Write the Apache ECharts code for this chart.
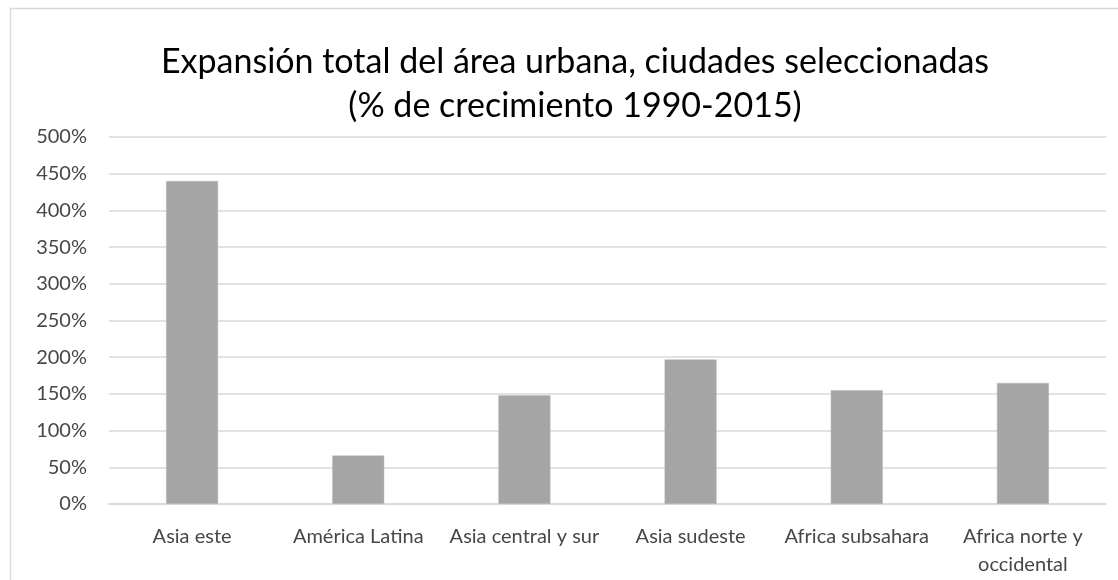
<!DOCTYPE html>
<html>
<head>
<meta charset="utf-8">
<title>Expansión total del área urbana</title>
<script src="https://cdn.jsdelivr.net/npm/echarts@6/dist/echarts.min.js"></script>
<style>
  html, body { margin: 0; padding: 0; background: #fff; }
  #main { width: 1118px; height: 580px; }
</style>
</head>
<body>
<div id="main"></div>
<script>
  // data
  var regiones = ['Asia este', 'América Latina', 'Asia central y sur', 'Asia sudeste', 'Africa subsahara', 'Africa norte y\noccidental'];
  var crecimiento = [440, 66, 148, 197, 155, 165];
  var yMin = 0, yMax = 500, yStep = 50;

  var myChart = echarts.init(document.getElementById('main'));
  var font = 'Lato, "Open Sans", sans-serif';

  myChart.setOption({
    animation: false,
    title: {
      text: 'Expansión total del área urbana, ciudades seleccionadas\n(% de crecimiento 1990-2015)',
      left: 570,
      top: 35,
      textAlign: 'center',
      textStyle: {
        fontFamily: font,
        fontSize: 34,
        fontWeight: 'normal',
        color: '#000',
        lineHeight: 44
      }
    },
    graphic: [{
      type: 'rect',
      shape: { x: 10.5, y: 8.5, width: 1130, height: 600 },
      style: { fill: 'none', stroke: '#d9d9d9', lineWidth: 1.5 },
      silent: true,
      z: -1
    }],
    grid: { left: 109, right: 12, top: 137, bottom: 76 },
    xAxis: {
      type: 'category',
      data: regiones,
      axisLine: { lineStyle: { color: '#d9d9d9', width: 1.5 } },
      axisTick: { show: false },
      axisLabel: {
        interval: 0,
        margin: 19,
        color: '#474747',
        fontFamily: font,
        fontSize: 20,
        lineHeight: 28
      }
    },
    yAxis: {
      type: 'value',
      min: yMin,
      max: yMax,
      interval: yStep,
      axisLine: { show: false },
      axisTick: { show: false },
      splitLine: { lineStyle: { color: '#d9d9d9', width: 1.5 } },
      axisLabel: {
        margin: 22,
        color: '#474747',
        fontFamily: font,
        fontSize: 20,
        formatter: '{value}%'
      }
    },
    series: [{
      type: 'bar',
      data: crecimiento,
      barWidth: 52,
      itemStyle: { color: '#a5a5a5', borderColor: '#b8b8b8', borderWidth: 0.5 }
    }]
  });

  window.addEventListener('resize', function () {
    myChart.resize();
  });
</script>
</body>
</html>
